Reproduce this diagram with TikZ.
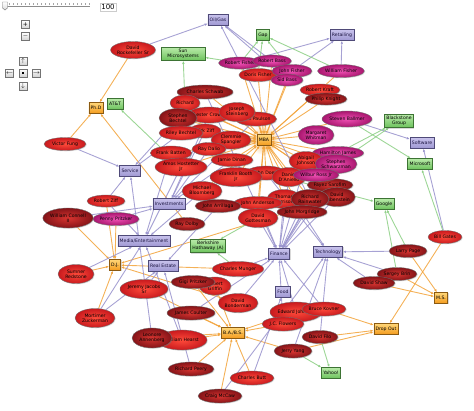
\documentclass[tikz,border=0pt]{standalone}
\usepackage{fontspec}
\setmainfont{DejaVu Sans}
\usetikzlibrary{shapes.geometric,arrows.meta,shadows}
\pgfdeclarelayer{bg}
\pgfsetlayers{bg,main}
\definecolor{catT}{HTML}{C8C2EC}
\definecolor{catB}{HTML}{9E97D2}
\definecolor{catD}{HTML}{4F4A78}
\definecolor{catE}{HTML}{9892CC}
\definecolor{compT}{HTML}{B8EAA8}
\definecolor{compB}{HTML}{6CC25C}
\definecolor{compD}{HTML}{3D7334}
\definecolor{compE}{HTML}{8CCF84}
\definecolor{degT}{HTML}{FFD678}
\definecolor{degB}{HTML}{F39A1C}
\definecolor{degD}{HTML}{8A5A12}
\definecolor{degE}{HTML}{F2A33A}
\definecolor{redIn}{HTML}{FF4A3A}
\definecolor{redOut}{HTML}{C81A1E}
\definecolor{dkIn}{HTML}{D83430}
\definecolor{dkOut}{HTML}{841418}
\definecolor{mgIn}{HTML}{F050B4}
\definecolor{mgOut}{HTML}{A8166E}
\definecolor{txt}{HTML}{1A1440}
\tikzset{
  lbl/.style={font=\fontsize{4.6}{5.2}\selectfont, align=center, text=black},
  pers/.style n args={2}{ellipse, lbl, draw=black!55, line width=0.35pt, inner sep=0pt,
     minimum width=#1, minimum height=#2, shade, inner color=redIn, outer color=redOut,
     drop shadow={opacity=0.25, shadow xshift=0.8pt, shadow yshift=-0.8pt}},
  dk/.style={inner color=dkIn, outer color=dkOut},
  mg/.style={inner color=mgIn, outer color=mgOut},
  box/.style={rectangle, lbl, line width=0.5pt, inner sep=1.8pt, minimum height=11pt,
     drop shadow={opacity=0.3, shadow xshift=0.9pt, shadow yshift=-0.9pt}},
  cat/.style={box, draw=catD, top color=catT, bottom color=catB, text=txt},
  comp/.style={box, draw=compD, top color=compT, bottom color=compB},
  deg/.style={box, draw=degD, top color=degT, bottom color=degB},
  edg/.style={line width=0.9pt, draw opacity=0.85, -{Latex[length=3pt,width=2.6pt]}},
  ec/.style={edg, draw=catE},
  eg/.style={edg, draw=compE},
  eo/.style={edg, draw=degE},
  btn/.style={rectangle, draw=black!55, minimum size=8pt, inner sep=0pt, top color=white,
     bottom color=black!18, font=\fontsize{6}{6}\selectfont}
}
\begin{document}
\begin{tikzpicture}[x=1pt,y=-1pt]
\useasboundingbox (0,0) rectangle (474,411);
% ---------- UI controls
\draw[black!45, line width=0.6pt] (3,6) -- (90,6);
\foreach \i in {0,...,21} \draw[black!35, line width=0.3pt] (5+4*\i,3.5) -- (5+4*\i,5.5);
\draw[draw=black!55, top color=white, bottom color=black!15] (2.5,2) -- (7.5,2) -- (7.5,8) -- (5,10) -- (2.5,8) -- cycle;
\node[draw=black!20, fill=white, inner sep=1.5pt, font=\fontsize{7}{7}\selectfont] (zoomval) at (108,7) {100};
\node[btn] (bplus) at (25.5,24.5) {+};
\node[btn] (bminus) at (25.5,36.5) {$-$};
\node[btn] (bup) at (23,61) {$\uparrow$};
\node[btn] (bleft) at (9.5,73) {$\leftarrow$};
\node[btn] (bmid) at (23,73) {\rule{2.2pt}{2.2pt}};
\node[btn] (bright) at (36.5,73) {$\rightarrow$};
\node[btn] (bdown) at (23,86.5) {$\downarrow$};
% ---------- category boxes
\node[cat] (oilgas) at (218,20) {Oil/Gas};
\node[cat] (retail) at (342,35) {Retailing};
\node[cat] (service) at (130,171) {Service};
\node[cat] (invest) at (169,204) {Investments};
\node[cat] (media) at (144,241) {Media/Entertainment};
\node[cat] (realestate) at (163,266) {Real Estate};
\node[cat] (finance) at (279,254) {Finance};
\node[cat] (tech) at (328,252) {Technology};
\node[cat] (software) at (422,143) {Software};
\node[cat] (food) at (283,292) {Food};
% ---------- company boxes
\node[comp] (gap) at (263,35) {Gap};
\node[comp, minimum width=44pt] (sun) at (183,54) {Sun\\Microsystems};
\node[comp] (blackstone) at (399,121) {Blackstone\\Group};
\node[comp] (microsoft) at (420,164) {Microsoft};
\node[comp] (google) at (384,204) {Google};
\node[comp] (berkshire) at (208,246) {Berkshire\\Hathaway (A)};
\node[comp] (yahoo) at (331,373) {Yahoo!};
% ---------- degree boxes
\node[deg] (phd) at (96,108) {Ph.D};
\node[comp] (att) at (115,104) {AT\&T};
\node[deg] (dj) at (115,265) {D.J.};
\node[deg] (babs) at (233,333) {B.A./B.S.};
\node[deg] (dropout) at (386,329) {Drop Out};
\node[deg] (ms) at (441,298) {M.S.};
% ---------- people
\node[pers={44}{17}] (rock) at (133,50) {David\\Rockefeller Sr};
\node[pers={42}{13}] (fung) at (65,144) {Victor Fung};
\node[pers={38}{12}] (rziff) at (106,201) {Robert Ziff};
\node[pers={42}{13}, mg] (penny) at (116,219) {Penny Pritzker};
\node[pers={50}{20}, dk] (connell) at (68,218) {William Connell\\II};
\node[pers={36}{19}] (redstone) at (76,274) {Sumner\\Redstone};
\node[pers={40}{19}] (zuck) at (95,318) {Mortimer\\Zuckerman};
\node[pers={48}{19}] (jacobs) at (144,289) {Jeremy Jacobs\\Sr};
\node[pers={50}{20}] (hearst) at (182,340) {William Hearst};
\node[pers={40}{20}, dk] (leonore) at (152,338) {Leonore\\Annenberg};
\node[pers={46}{14}, dk] (peery) at (191,369) {Richard Peery};
\node[pers={44}{14}, dk] (mccaw) at (220,396) {Craig McCaw};
\node[pers={44}{14}] (butt) at (252,378) {Charles Butt};
\node[pers={32}{18}] (griffin) at (215,286) {Robert\\Griffin};
\node[pers={44}{13}, dk] (gigi) at (193,282) {Gigi Pritzker};
\node[pers={50}{15}] (munger) at (238,269) {Charles Munger};
\node[pers={40}{19}] (bonderman) at (238,303) {David\\Bonderman};
\node[pers={48}{14}, dk] (coulter) at (191,313) {James Coulter};
\node[pers={52}{20}] (ejohnson) at (296,312) {Edward Johnson};
\node[pers={44}{14}] (kovner) at (324,309) {Bruce Kovner};
\node[pers={42}{14}] (flowers) at (283,324) {J.C. Flowers};
\node[pers={36}{13}, dk] (filo) at (320,337) {David Filo};
\node[pers={38}{14}, dk] (yang) at (293,351) {Jerry Yang};
\node[pers={38}{13}, dk] (page) at (408,251) {Larry Page};
\node[pers={40}{13}, dk] (brin) at (397,274) {Sergey Brin};
\node[pers={42}{13}, dk] (shaw) at (374,283) {David Shaw};
\node[pers={34}{13}] (gates) at (445,237) {Bill Gates};
% top cluster
\node[pers={38}{13}] (doris) at (258,75) {Doris Fisher};
\node[pers={40}{12}, mg] (rfisher) at (240,63) {Robert Fisher};
\node[pers={38}{12}, mg] (rbass) at (272,61) {Robert Bass};
\node[pers={40}{13}, mg] (jfisher) at (292,71) {John Fisher};
\node[pers={32}{12}, mg] (sbass) at (287,80) {Sid Bass};
\node[pers={47}{13}, mg] (wfisher) at (341,71) {William Fisher};
\node[pers={40}{12}] (kraft) at (320,90) {Robert Kraft};
\node[pers={42}{12}, dk] (knight) at (326,99) {Philip Knight};
\node[pers={50}{16}, mg] (ballmer) at (347,119) {Steven Ballmer};
% MBA cluster
\node[pers={56}{14}, dk] (schwab) at (205,92) {Charles Schwab};
\node[pers={30}{16}] (richard) at (185,103) {Richard};
\node[pers={40}{16}] (crown) at (209,115) {Lester Crown};
\node[pers={38}{14}] (paulson) at (256,119) {John Paulson};
\node[pers={38}{19}, dk] (sbechtel) at (178,118) {Stephen\\Bechtel};
\node[pers={36}{19}] (joseph) at (237,112) {Joseph\\Steinberg};
\node[pers={32}{14}] (ziff2) at (205,131) {Dirk Ziff};
\node[pers={44}{14}] (rbechtel) at (181,133) {Riley Bechtel};
\node[pers={40}{18}] (clemmie) at (231,140) {Clemmie\\Spangler};
\node[pers={34}{13}] (dalio) at (209,149) {Ray Dalio};
\node[pers={42}{13}] (dinan) at (232,160) {Jamie Dinan};
\node[pers={40}{14}] (batten) at (171,153) {Frank Batten};
\node[pers={52}{18}] (hostetter) at (181,167) {Amos Hostetter\\Jr};
\node[pers={40}{14}] (doerr) at (266,173) {John Doerr};
\node[pers={52}{19}] (booth) at (236,177) {Franklin Booth\\Jr};
\node[pers={40}{19}] (bloomberg) at (202,191) {Michael\\Bloomberg};
\node[pers={34}{19}] (daniello) at (289,177) {Daniel\\D'Aniello};
\node[pers={36}{19}, mg] (whitman) at (316,135) {Margaret\\Whitman};
\node[pers={46}{13}, mg] (hjames) at (338,153) {Hamilton James};
\node[pers={34}{19}] (abigail) at (306,161) {Abigail\\Johnson};
\node[pers={42}{19}, mg] (schwarzman) at (336,164) {Stephen\\Schwarzman};
\node[pers={46}{13}, dk] (sarofim) at (330,185) {Fayez Sarofim};
\node[pers={46}{13}, mg] (ross) at (316,175) {Wilbur Ross Jr};
\node[pers={36}{19}, dk] (rubenstein) at (337,197) {David\\Rubenstein};
\node[pers={34}{19}] (thomas) at (284,199) {Thomas\\Harrison};
\node[pers={38}{19}, dk] (rainwater) at (310,199) {Richard\\Rainwater};
\node[pers={48}{13}] (anderson) at (258,203) {John Anderson};
\node[pers={50}{13}, dk] (morgridge) at (302,212) {John Morgridge};
\node[pers={40}{19}] (gottesman) at (258,218) {David\\Gottesman};
\node[pers={46}{13}, dk] (arrillaga) at (218,206) {John Arrillaga};
\node[pers={36}{13}, dk] (dolby) at (187,224) {Ray Dolby};
\node[deg] (mba) at (264,140) {MBA};
% ---------- edges
\begin{pgfonlayer}{bg}
\shade[inner color=degB!80, outer color=white] (264,140) circle (15);
\foreach \s in {rfisher,rbass,jfisher,sbass,doris,wfisher,kraft,knight,whitman,schwab,richard,sbechtel,crown,joseph,paulson,rbechtel,ziff2,clemmie,dalio,dinan,batten,hostetter,bloomberg,booth,doerr,daniello,ross,schwarzman,hjames,abigail,sarofim,rainwater,thomas,anderson,morgridge,gottesman,ballmer}
  \draw[eo] (\s) -- (mba);
\foreach \s in {rock,fung,dolby} \draw[eo] (\s) -- (phd);
\foreach \s in {connell,penny,rziff,redstone,zuck,munger,bonderman,rubenstein} \draw[eo] (\s) -- (dj);
\foreach \s in {jacobs,coulter,hearst,leonore,peery,mccaw,butt,yang,flowers,gigi,griffin,ejohnson} \draw[eo] (\s) -- (babs);
\foreach \s in {gates,kovner,filo,yang} \draw[eo] (\s) -- (dropout);
\foreach \s in {page,brin,shaw} \draw[eo] (\s) -- (ms);
% categories
\foreach \s in {rock,rbass,sbass,rainwater} \draw[ec] (\s) -- (oilgas);
\foreach \s in {wfisher,jfisher,rfisher} \draw[ec] (\s) -- (retail);
\foreach \s in {fung,sbechtel,rbechtel,rziff,leonore} \draw[ec] (\s) -- (service);
\foreach \s in {ziff2,dalio,dinan,paulson,penny,connell,crown} \draw[ec] (\s) -- (invest);
\foreach \s in {redstone,hostetter,batten,bloomberg,zuck,hearst,rziff} \draw[ec] (\s) -- (media);
\foreach \s in {zuck,arrillaga,peery,jacobs} \draw[ec] (\s) -- (realestate);
\foreach \s in {schwab,abigail,ejohnson,flowers,rubenstein,ross,hjames,schwarzman,thomas,rainwater,gottesman,coulter,bonderman,sarofim,daniello,kovner,munger,anderson} \draw[ec] (\s) -- (finance);
\foreach \s in {morgridge,doerr,page,brin,shaw,yang,filo,mccaw} \draw[ec] (\s) -- (tech);
\draw[ec] (butt) -- (food);
\foreach \s in {gates,ballmer} \draw[ec] (\s) -- (software);
% companies
\foreach \s in {rfisher,jfisher,wfisher,doris} \draw[eg] (\s) -- (gap);
\foreach \s in {rfisher,richard} \draw[eg] (\s) -- (sun);
\draw[eg] (hostetter) -- (att);
\foreach \s in {schwarzman,hjames} \draw[eg] (\s) -- (blackstone);
\foreach \s in {ballmer,gates} \draw[eg] (\s) -- (microsoft);
\foreach \s in {page,brin,doerr} \draw[eg] (\s) -- (google);
\foreach \s in {yang,filo} \draw[eg] (\s) -- (yahoo);
\foreach \s in {gottesman,munger} \draw[eg] (\s) -- (berkshire);
\end{pgfonlayer}
\end{tikzpicture}
\end{document}
